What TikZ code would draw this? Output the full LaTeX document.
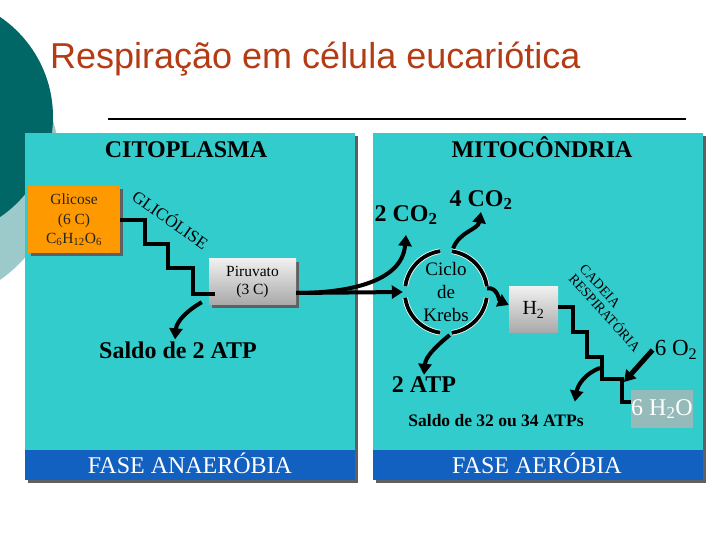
\documentclass[tikz,border=0pt]{standalone}
\usepackage{fontspec}
\setmainfont{Liberation Serif}
\newfontfamily\titlefont{Liberation Sans}
\usetikzlibrary{arrows.meta,shadows}

\definecolor{painel}{RGB}{51,204,204}
\definecolor{faixa}{RGB}{18,96,192}
\definecolor{laranja}{RGB}{255,153,0}
\definecolor{titulo}{RGB}{180,60,20}
\definecolor{tealescuro}{RGB}{0,102,102}
\definecolor{tealclaro}{RGB}{156,201,201}
\definecolor{aguacor}{RGB}{148,186,186}
\definecolor{sombra}{RGB}{96,96,96}

\begin{document}
\begin{tikzpicture}[x=1pt, y=1pt,
  caixa/.style={inner sep=0pt, align=center, font=\fontsize{15.5}{18}\selectfont},
  cinza/.style={top color=black!6, bottom color=black!34, draw=none},
  escada/.style={line width=4.5pt, line join=miter},
  seta/.style={line width=4pt, -{Triangle[length=11pt,width=13pt]}},
  rotulo/.style={inner sep=2pt, font=\fontsize{24}{28}\selectfont\bfseries},
  fase/.style={anchor=base, text=white, font=\fontsize{24}{28}\selectfont},
  ciclo/.style={draw=white, line width=0.8pt, double=black, double distance=3.8pt},
  ]
  \useasboundingbox (0,0) rectangle (720,540);

  % Background circles
  \begin{scope}
    \clip (0,0) rectangle (720,540);
    \fill[tealclaro] (-80,375) circle (140);
    \fill[tealescuro] (-68,423) circle (121);
  \end{scope}

  % Title
  \node[anchor=base west, inner sep=0pt, text=titulo,
    font=\titlefont\fontsize{36}{42}\selectfont] (tit) at (50,471)
    {Respiração em célula eucariótica};
  \draw[line width=1.5pt] (108,421) -- (686,421);

  % Panels
  \fill[sombra] (28,57) rectangle (358,404);
  \fill[painel] (25,60) rectangle (355,407);
  \fill[faixa] (25,60) rectangle (355,90);
  \fill[sombra] (376,57) rectangle (706,404);
  \fill[painel] (373,60) rectangle (703,407);
  \fill[faixa] (373,60) rectangle (703,90);

  \node[rotulo, anchor=base] (cito) at (186,382) {CITOPLASMA};
  \node[rotulo, anchor=base] (mito) at (542,382) {MITOCÔNDRIA};
  \node[fase] (anaer) at (190,66) {FASE ANAERÓBIA};
  \node[fase] (aer) at (537,66) {FASE AERÓBIA};

  % Boxes
  \node[caixa, fill=laranja, minimum width=92pt, minimum height=67pt,
    font=\fontsize{15.5}{19.5}\selectfont, text=black!85,
    drop shadow={shadow xshift=3pt, shadow yshift=-3pt, fill=sombra, opacity=1}]
    (glicose) at (74,320) {Glicose\\(6 C)\\C\textsubscript{6}H\textsubscript{12}O\textsubscript{6}};
  \node[caixa, cinza, minimum width=87pt, minimum height=46pt,
    drop shadow={shadow xshift=3pt, shadow yshift=-3pt, fill=sombra, opacity=1}]
    (piruvato) at (252.5,258) {Piruvato\\(3 C)};
  \node[caixa, cinza, minimum width=49pt, minimum height=46pt,
    font=\fontsize{20}{22}\selectfont] (h2) at (533.5,230) {H\textsubscript{2}};
  \node[caixa, fill=aguacor, text=white, minimum width=60pt, minimum height=38pt,
    font=\fontsize{24}{26}\selectfont] (agua) at (662,131) {6 H\textsubscript{2}O};
  \node[circle, minimum size=82pt, caixa, font=\fontsize{19}{23}\selectfont]
    (krebs) at (446,248) {Ciclo\\de\\Krebs};

  % Labels
  \node[rotulo] (co2a) at (406,325) {2 CO\textsubscript{2}};
  \node[rotulo] (co2b) at (481,340) {4 CO\textsubscript{2}};
  \node[rotulo] (atpa) at (178,190) {Saldo de 2 ATP};
  \node[rotulo] (atpb) at (424,155) {2 ATP};
  \node[rotulo, font=\fontsize{17.5}{20}\selectfont\bfseries] (saldo) at (496,119)
    {Saldo de 32 ou 34 ATPs};
  \node[inner sep=2pt, font=\fontsize{23}{26}\selectfont] (oxig) at (676,190)
    {6 O\textsubscript{2}};
  \node[rotate=-35, font=\fontsize{17}{18}\selectfont] (glic) at (171,321) {GLICÓLISE};
  \node[rotate=-48, align=left, inner sep=0pt, font=\fontsize{14}{14.5}\selectfont]
    (cadeia) at (610,232) {CADEIA\\RESPIRATÓRIA};

  % Krebs cycle
  \draw[ciclo] (krebs.8) arc[start angle=8, end angle=82, radius=41pt];
  \draw[ciclo] (krebs.98) arc[start angle=98, end angle=172, radius=41pt];
  \draw[ciclo] (krebs.188) arc[start angle=188, end angle=262, radius=41pt];
  \draw[ciclo] (krebs.278) arc[start angle=278, end angle=352, radius=41pt];

  % Glycolysis steps
  \draw[escada] (glicose.east) -- ++(25,0) -- ++(0,-24) -- ++(23,0) -- ++(0,-24)
    -- ++(25,0) |- ([xshift=6pt,yshift=11pt]piruvato.south west);
  \draw[seta] ([xshift=-7pt,yshift=3pt]piruvato.south west) to[out=-150, in=85]
    ([xshift=-3pt]atpa.north);

  % Piruvato into the mitochondria
  \draw[seta] ([yshift=-11pt]piruvato.east) -- ([xshift=-2pt]krebs.west);
  \draw[seta] ([yshift=-11pt]piruvato.east) to[out=0, in=-95]
    ([yshift=-8pt]co2a.south);
  \draw[seta] ([yshift=3pt]krebs.80) to[out=70, in=-100] (co2b.south);
  \draw[seta] (krebs.5) to[out=10, in=155] ([yshift=5pt]h2.west);
  \draw[seta] ([yshift=-2pt]krebs.275) to[out=-140, in=85] (atpb.north);

  % Respiratory chain
  \draw[escada] ([yshift=3pt]h2.east) -- ++(15,0) -- ++(0,-25) -- ++(14,0) -- ++(0,-25)
    -- ++(15,0) -- ++(0,-22) -- ++(20,0) |- ([yshift=7pt]agua.west);
  \coordinate (degrau) at (624,158);
  \coordinate (degrau2) at (600,172);
  \draw[seta, line width=5pt] (oxig.west) -- (degrau);
  \draw[seta] (degrau2) to[out=-160, in=80] ([xshift=-11pt,yshift=11pt]saldo.north east);
\end{tikzpicture}
\end{document}
